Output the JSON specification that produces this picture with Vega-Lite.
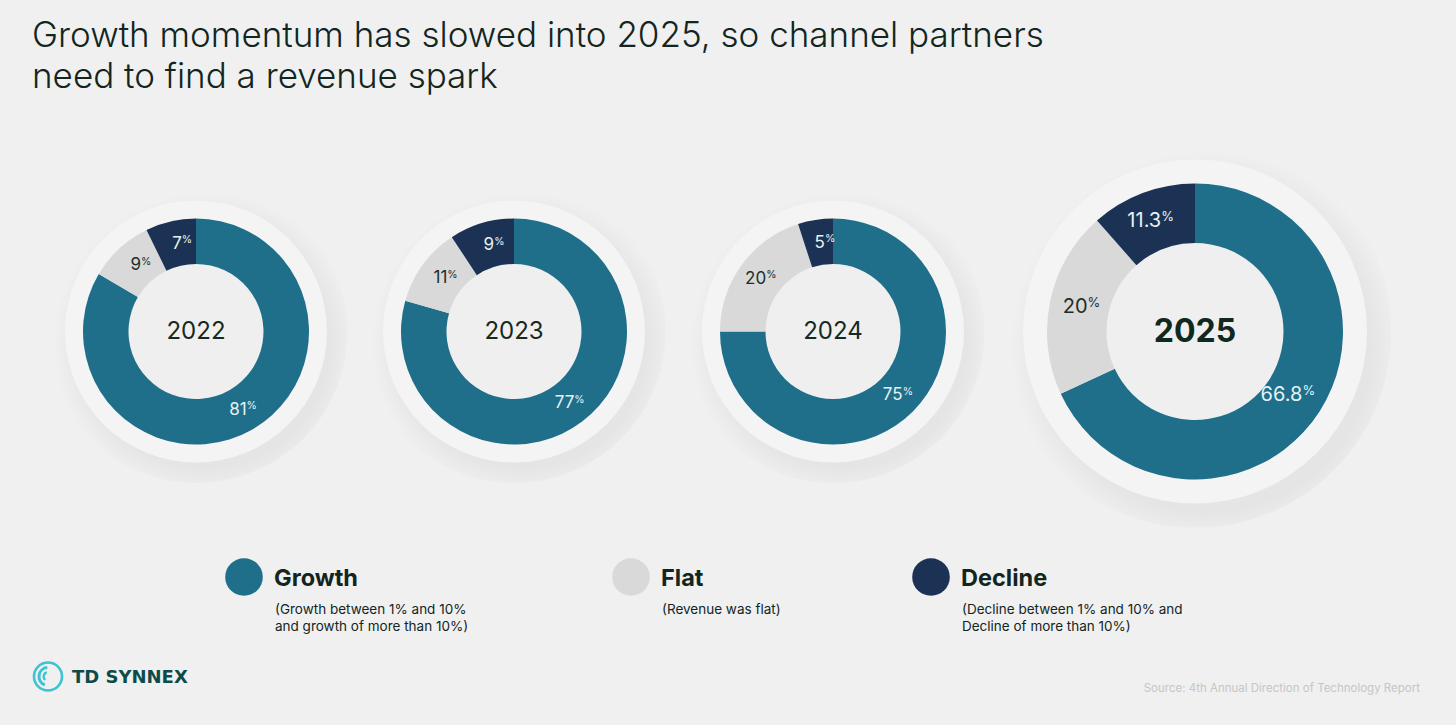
{
  "$schema": "https://vega.github.io/schema/vega-lite/v6.json",
  "background": "#f0f0f0",
  "padding": {"left": 0, "top": 18, "right": 36, "bottom": 28},
  "spacing": 0,
  "config": {"view": {"stroke": null}, "font": "Inter"},
  "title": {
    "text": ["Growth momentum has slowed into 2025, so channel partners", "need to find a revenue spark"],
    "anchor": "start", "frame": "group", "dx": 32, "offset": 10,
    "font": "Inter", "fontSize": 35, "fontWeight": 300, "lineHeight": 41.5, "color": "#12261f"
  },
  "datasets": {
    "donuts": [
      {"year": 2022, "category": "Growth", "value": 81},
      {"year": 2022, "category": "Flat", "value": 9},
      {"year": 2022, "category": "Decline", "value": 7},
      {"year": 2023, "category": "Growth", "value": 77},
      {"year": 2023, "category": "Flat", "value": 11},
      {"year": 2023, "category": "Decline", "value": 9},
      {"year": 2024, "category": "Growth", "value": 75},
      {"year": 2024, "category": "Flat", "value": 20},
      {"year": 2024, "category": "Decline", "value": 5},
      {"year": 2025, "category": "Growth", "value": 66.8},
      {"year": 2025, "category": "Flat", "value": 20},
      {"year": 2025, "category": "Decline", "value": 11.3}
    ],
    "legend": [
      {"category": "Growth", "desc": "(Growth between 1% and 10%\nand growth of more than 10%)"},
      {"category": "Flat", "desc": "(Revenue was flat)"},
      {"category": "Decline", "desc": "(Decline between 1% and 10% and\nDecline of more than 10%)"}
    ]
  },
  "vconcat": [
    {
      "hconcat": [
        {
          "width": 392, "height": 453,
          "data": {"name": "donuts"},
          "transform": [{"filter": "datum.year == 2022"}],
          "layer": [
            {"transform": [{"filter": "datum.category === 'Growth'"}], "mark": {"type": "circle", "size": 92000, "opacity": 1, "color": {"gradient": "radial", "x1": 0.53, "y1": 0.54, "r1": 0, "x2": 0.53, "y2": 0.54, "r2": 0.5, "stops": [{"offset": 0, "color": "#e5e5e5"}, {"offset": 0.82, "color": "#e5e5e5"}, {"offset": 1, "color": "#f0f0f0"}]}}},
            {"transform": [{"filter": "datum.category === 'Growth'"}], "mark": {"type": "circle", "size": 68644, "opacity": 1, "color": "#f4f4f4"}},
            {"transform": [{"filter": "datum.category === 'Growth'"}], "mark": {"type": "circle", "size": 18496, "opacity": 1, "color": "#efefef"}},
            {"mark": {"type": "arc", "outerRadius": 113, "innerRadius": 67.5},
             "encoding": {
               "theta": {"field": "value", "type": "quantitative", "stack": "normalize"},
               "order": {"field": "category", "sort": "descending"},
               "color": {"field": "category", "type": "nominal", "scale": {"domain": ["Growth", "Flat", "Decline"], "range": ["#1f6f8b", "#d9d9d9", "#1c3254"]}, "legend": null}
             }},
            {"mark": {"type": "text", "radius": 90, "align": "right", "dx": 6, "baseline": "middle", "font": "Inter", "fontSize": 17},
             "encoding": {
               "theta": {"field": "value", "type": "quantitative", "stack": "normalize"},
               "order": {"field": "category", "sort": "descending"},
               "detail": {"field": "category"},
               "text": {"field": "value", "type": "quantitative"},
               "color": {"condition": {"test": "datum.category === 'Flat'", "value": "#1d2e29"}, "value": "#e6f2f3"}
             }},
            {"mark": {"type": "text", "radius": 90, "align": "left", "dx": 6, "dy": -3.5, "baseline": "middle", "font": "Inter", "fontSize": 10.5},
             "encoding": {
               "theta": {"field": "value", "type": "quantitative", "stack": "normalize"},
               "order": {"field": "category", "sort": "descending"},
               "detail": {"field": "category"},
               "text": {"value": "%"},
               "color": {"condition": {"test": "datum.category === 'Flat'", "value": "#1d2e29"}, "value": "#e6f2f3"}
             }},
            {"transform": [{"filter": "datum.category === 'Growth'"}], "mark": {"type": "text", "baseline": "middle", "font": "Inter", "fontSize": 24, "color": "#16291f"}, "encoding": {"text": {"field": "year", "type": "nominal"}}}
          ]
        },
        {
          "width": 244, "height": 453,
          "data": {"name": "donuts"},
          "transform": [{"filter": "datum.year == 2023"}],
          "layer": [
            {"transform": [{"filter": "datum.category === 'Growth'"}], "mark": {"type": "circle", "size": 92000, "opacity": 1, "color": {"gradient": "radial", "x1": 0.53, "y1": 0.54, "r1": 0, "x2": 0.53, "y2": 0.54, "r2": 0.5, "stops": [{"offset": 0, "color": "#e5e5e5"}, {"offset": 0.82, "color": "#e5e5e5"}, {"offset": 1, "color": "#f0f0f0"}]}}},
            {"transform": [{"filter": "datum.category === 'Growth'"}], "mark": {"type": "circle", "size": 68644, "opacity": 1, "color": "#f4f4f4"}},
            {"transform": [{"filter": "datum.category === 'Growth'"}], "mark": {"type": "circle", "size": 18496, "opacity": 1, "color": "#efefef"}},
            {"mark": {"type": "arc", "outerRadius": 113, "innerRadius": 67.5},
             "encoding": {
               "theta": {"field": "value", "type": "quantitative", "stack": "normalize"},
               "order": {"field": "category", "sort": "descending"},
               "color": {"field": "category", "type": "nominal", "scale": {"domain": ["Growth", "Flat", "Decline"], "range": ["#1f6f8b", "#d9d9d9", "#1c3254"]}, "legend": null}
             }},
            {"mark": {"type": "text", "radius": 90, "align": "right", "dx": 6, "baseline": "middle", "font": "Inter", "fontSize": 17},
             "encoding": {
               "theta": {"field": "value", "type": "quantitative", "stack": "normalize"},
               "order": {"field": "category", "sort": "descending"},
               "detail": {"field": "category"},
               "text": {"field": "value", "type": "quantitative"},
               "color": {"condition": {"test": "datum.category === 'Flat'", "value": "#1d2e29"}, "value": "#e6f2f3"}
             }},
            {"mark": {"type": "text", "radius": 90, "align": "left", "dx": 6, "dy": -3.5, "baseline": "middle", "font": "Inter", "fontSize": 10.5},
             "encoding": {
               "theta": {"field": "value", "type": "quantitative", "stack": "normalize"},
               "order": {"field": "category", "sort": "descending"},
               "detail": {"field": "category"},
               "text": {"value": "%"},
               "color": {"condition": {"test": "datum.category === 'Flat'", "value": "#1d2e29"}, "value": "#e6f2f3"}
             }},
            {"transform": [{"filter": "datum.category === 'Growth'"}], "mark": {"type": "text", "baseline": "middle", "font": "Inter", "fontSize": 24, "color": "#16291f"}, "encoding": {"text": {"field": "year", "type": "nominal"}}}
          ]
        },
        {
          "width": 394, "height": 453,
          "data": {"name": "donuts"},
          "transform": [{"filter": "datum.year == 2024"}],
          "layer": [
            {"transform": [{"filter": "datum.category === 'Growth'"}], "mark": {"type": "circle", "size": 92000, "opacity": 1, "color": {"gradient": "radial", "x1": 0.53, "y1": 0.54, "r1": 0, "x2": 0.53, "y2": 0.54, "r2": 0.5, "stops": [{"offset": 0, "color": "#e5e5e5"}, {"offset": 0.82, "color": "#e5e5e5"}, {"offset": 1, "color": "#f0f0f0"}]}}},
            {"transform": [{"filter": "datum.category === 'Growth'"}], "mark": {"type": "circle", "size": 68644, "opacity": 1, "color": "#f4f4f4"}},
            {"transform": [{"filter": "datum.category === 'Growth'"}], "mark": {"type": "circle", "size": 18496, "opacity": 1, "color": "#efefef"}},
            {"mark": {"type": "arc", "outerRadius": 113, "innerRadius": 67.5},
             "encoding": {
               "theta": {"field": "value", "type": "quantitative", "stack": "normalize"},
               "order": {"field": "category", "sort": "descending"},
               "color": {"field": "category", "type": "nominal", "scale": {"domain": ["Growth", "Flat", "Decline"], "range": ["#1f6f8b", "#d9d9d9", "#1c3254"]}, "legend": null}
             }},
            {"mark": {"type": "text", "radius": 90, "align": "right", "dx": 6, "baseline": "middle", "font": "Inter", "fontSize": 17},
             "encoding": {
               "theta": {"field": "value", "type": "quantitative", "stack": "normalize"},
               "order": {"field": "category", "sort": "descending"},
               "detail": {"field": "category"},
               "text": {"field": "value", "type": "quantitative"},
               "color": {"condition": {"test": "datum.category === 'Flat'", "value": "#1d2e29"}, "value": "#e6f2f3"}
             }},
            {"mark": {"type": "text", "radius": 90, "align": "left", "dx": 6, "dy": -3.5, "baseline": "middle", "font": "Inter", "fontSize": 10.5},
             "encoding": {
               "theta": {"field": "value", "type": "quantitative", "stack": "normalize"},
               "order": {"field": "category", "sort": "descending"},
               "detail": {"field": "category"},
               "text": {"value": "%"},
               "color": {"condition": {"test": "datum.category === 'Flat'", "value": "#1d2e29"}, "value": "#e6f2f3"}
             }},
            {"transform": [{"filter": "datum.category === 'Growth'"}], "mark": {"type": "text", "baseline": "middle", "font": "Inter", "fontSize": 24, "color": "#16291f"}, "encoding": {"text": {"field": "year", "type": "nominal"}}}
          ]
        },
        {
          "width": 330, "height": 453,
          "data": {"name": "donuts"},
          "transform": [{"filter": "datum.year == 2025"}],
          "layer": [
            {"transform": [{"filter": "datum.category === 'Growth'"}], "mark": {"type": "circle", "size": 154000, "opacity": 1, "color": {"gradient": "radial", "x1": 0.53, "y1": 0.54, "r1": 0, "x2": 0.53, "y2": 0.54, "r2": 0.5, "stops": [{"offset": 0, "color": "#e5e5e5"}, {"offset": 0.84, "color": "#e5e5e5"}, {"offset": 1, "color": "#f0f0f0"}]}}},
            {"transform": [{"filter": "datum.category === 'Growth'"}], "mark": {"type": "circle", "size": 118336, "opacity": 1, "color": "#f4f4f4"}},
            {"transform": [{"filter": "datum.category === 'Growth'"}], "mark": {"type": "circle", "size": 31684, "opacity": 1, "color": "#efefef"}},
            {"mark": {"type": "arc", "outerRadius": 148, "innerRadius": 88.5},
             "encoding": {
               "theta": {"field": "value", "type": "quantitative", "stack": "normalize"},
               "order": {"field": "category", "sort": "descending"},
               "color": {"field": "category", "type": "nominal", "scale": {"domain": ["Growth", "Flat", "Decline"], "range": ["#1f6f8b", "#d9d9d9", "#1c3254"]}, "legend": null}
             }},
            {"mark": {"type": "text", "radius": 118, "align": "right", "dx": 8, "baseline": "middle", "font": "Inter", "fontSize": 20},
             "encoding": {
               "theta": {"field": "value", "type": "quantitative", "stack": "normalize"},
               "order": {"field": "category", "sort": "descending"},
               "detail": {"field": "category"},
               "text": {"field": "value", "type": "quantitative"},
               "color": {"condition": {"test": "datum.category === 'Flat'", "value": "#1d2e29"}, "value": "#e6f2f3"}
             }},
            {"mark": {"type": "text", "radius": 118, "align": "left", "dx": 8, "dy": -4.5, "baseline": "middle", "font": "Inter", "fontSize": 13},
             "encoding": {
               "theta": {"field": "value", "type": "quantitative", "stack": "normalize"},
               "order": {"field": "category", "sort": "descending"},
               "detail": {"field": "category"},
               "text": {"value": "%"},
               "color": {"condition": {"test": "datum.category === 'Flat'", "value": "#1d2e29"}, "value": "#e6f2f3"}
             }},
            {"transform": [{"filter": "datum.category === 'Growth'"}], "mark": {"type": "text", "baseline": "middle", "font": "Inter", "fontSize": 32, "fontWeight": "bold", "color": "#0f2820"}, "encoding": {"text": {"field": "year", "type": "nominal"}}}
          ]
        }
      ],
      "spacing": 0,
      "bounds": "flush"
    },
    {
      "vconcat": [
        {
          "hconcat": [
            {
              "width": 488, "height": 38,
              "data": {"name": "legend"},
              "transform": [{"filter": "datum.category === 'Growth'"}],
              "layer": [
                {"mark": {"type": "circle", "size": 1414, "opacity": 1}, "encoding": {"color": {"field": "category", "type": "nominal", "scale": {"domain": ["Growth", "Flat", "Decline"], "range": ["#1f6f8b", "#d9d9d9", "#1c3254"]}, "legend": null}}},
                {"mark": {"type": "text", "align": "left", "dx": 30, "dy": 2, "baseline": "middle", "font": "Inter", "fontSize": 23.5, "fontWeight": "bold", "color": "#12261f"}, "encoding": {"text": {"field": "category"}}},
                {"mark": {"type": "text", "align": "left", "dx": 31, "dy": 26, "baseline": "top", "font": "Inter", "fontSize": 13.5, "lineHeight": 16.5, "lineBreak": "\n", "color": "#12261f"}, "encoding": {"text": {"field": "desc"}}}
              ]
            },
            {
              "width": 286, "height": 38,
              "data": {"name": "legend"},
              "transform": [{"filter": "datum.category === 'Flat'"}],
              "layer": [
                {"mark": {"type": "circle", "size": 1414, "opacity": 1}, "encoding": {"color": {"field": "category", "type": "nominal", "scale": {"domain": ["Growth", "Flat", "Decline"], "range": ["#1f6f8b", "#d9d9d9", "#1c3254"]}, "legend": null}}},
                {"mark": {"type": "text", "align": "left", "dx": 30, "dy": 2, "baseline": "middle", "font": "Inter", "fontSize": 23.5, "fontWeight": "bold", "color": "#12261f"}, "encoding": {"text": {"field": "category"}}},
                {"mark": {"type": "text", "align": "left", "dx": 31, "dy": 26, "baseline": "top", "font": "Inter", "fontSize": 13.5, "lineHeight": 16.5, "lineBreak": "\n", "color": "#12261f"}, "encoding": {"text": {"field": "desc"}}}
              ]
            },
            {
              "width": 314, "height": 38,
              "data": {"name": "legend"},
              "transform": [{"filter": "datum.category === 'Decline'"}],
              "layer": [
                {"mark": {"type": "circle", "size": 1414, "opacity": 1}, "encoding": {"color": {"field": "category", "type": "nominal", "scale": {"domain": ["Growth", "Flat", "Decline"], "range": ["#1f6f8b", "#d9d9d9", "#1c3254"]}, "legend": null}}},
                {"mark": {"type": "text", "align": "left", "dx": 30, "dy": 2, "baseline": "middle", "font": "Inter", "fontSize": 23.5, "fontWeight": "bold", "color": "#12261f"}, "encoding": {"text": {"field": "category"}}},
                {"mark": {"type": "text", "align": "left", "dx": 31, "dy": 26, "baseline": "top", "font": "Inter", "fontSize": 13.5, "lineHeight": 16.5, "lineBreak": "\n", "color": "#12261f"}, "encoding": {"text": {"field": "desc"}}}
              ]
            }
          ],
          "spacing": 0,
          "bounds": "flush"
        },
        {
          "hconcat": [
            {
              "width": 96, "height": 40,
              "data": {"values": [{"brand": "TD SYNNEX"}]},
              "layer": [
                {"mark": {"type": "circle", "size": 784, "filled": false, "stroke": "#3ec3d0", "strokeWidth": 2.6, "opacity": 1}},
                {"mark": {"type": "arc", "theta": 3.5, "theta2": 6.2, "outerRadius": 10.5, "innerRadius": 7.5, "color": "#3ec3d0"}, "encoding": {}},
                {"mark": {"type": "arc", "theta": 3.8, "theta2": 6.0, "outerRadius": 5.5, "innerRadius": 3.2, "color": "#3ec3d0"}, "encoding": {}},
                {"mark": {"type": "text", "align": "left", "dx": 24, "dy": 1, "baseline": "middle", "font": "DejaVu Sans", "fontWeight": "bold", "fontSize": 18, "color": "#0c4b4a"}, "encoding": {"text": {"field": "brand"}}}
              ]
            },
            {
              "width": 1324, "height": 40,
              "data": {"values": [{"note": "Source: 4th Annual Direction of Technology Report"}]},
              "mark": {"type": "text", "align": "right", "baseline": "middle", "dy": 12, "font": "Inter", "fontSize": 11.5, "color": "#c6c6c6"},
              "encoding": {"text": {"field": "note"}, "x": {"value": "width"}}
            }
          ],
          "spacing": 0,
          "bounds": "flush"
        }
      ],
      "spacing": 23.5
    }
  ]
}
